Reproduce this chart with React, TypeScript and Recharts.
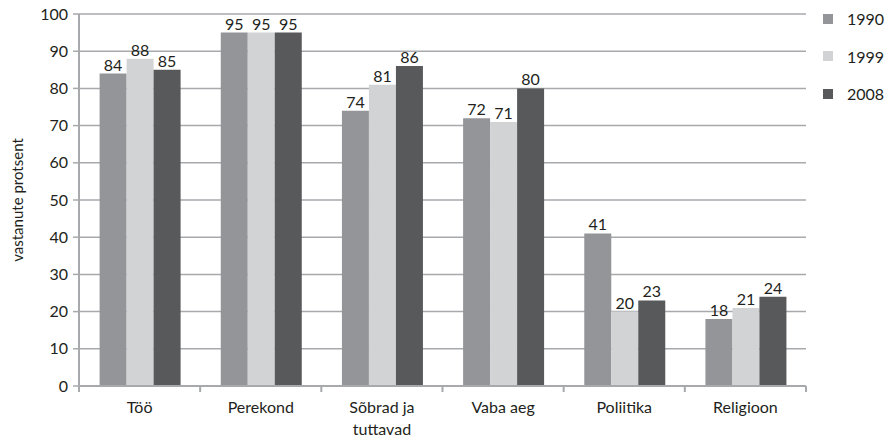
import React from "react";
import {
  BarChart,
  Bar,
  XAxis,
  YAxis,
  CartesianGrid,
  LabelList,
  Label,
  Text,
} from "recharts";

const categories = ["Töö", "Perekond", "Sõbrad ja tuttavad", "Vaba aeg", "Poliitika", "Religioon"];
const values1990 = [84, 95, 74, 72, 41, 18];
const values1999 = [88, 95, 81, 71, 20, 21];
const values2008 = [85, 95, 86, 80, 23, 24];
const yTicks = [0, 10, 20, 30, 40, 50, 60, 70, 80, 90, 100];

const series = [
  { key: "y1990", name: "1990", color: "#939598" },
  { key: "y1999", name: "1999", color: "#d1d3d4" },
  { key: "y2008", name: "2008", color: "#58595b" },
];

const data = categories.map((c, i) => ({
  name: c,
  y1990: values1990[i],
  y1999: values1999[i],
  y2008: values2008[i],
}));

const FONT = "Lato, 'Open Sans', sans-serif";
const GRID = "#a7a9ac";
const TEXT = "#231f20";

// category tick: label below, small tick marks at band edges
function CategoryTick(props: any) {
  const { x, y, payload, index } = props;
  const half = 60.6;
  return (
    <g>
      <line x1={x - half} y1={y - 8} x2={x - half} y2={y - 2} stroke={GRID} strokeWidth={2} />
      {index === categories.length - 1 && (
        <line x1={x + half} y1={y - 8} x2={x + half} y2={y - 2} stroke={GRID} strokeWidth={2} />
      )}
      <Text
        x={x}
        y={y + 8}
        width={95}
        textAnchor="middle"
        verticalAnchor="start"
        lineHeight={22}
        fontSize={16}
        fontFamily={FONT}
        fill={TEXT}
      >
        {payload.value}
      </Text>
    </g>
  );
}

function LegendBox() {
  return (
    <div
      style={{
        position: "absolute",
        left: 823,
        top: 0,
        fontFamily: FONT,
        fontSize: 16,
        color: TEXT,
      }}
    >
      {series.map((s) => (
        <div key={s.key} style={{ display: "flex", alignItems: "center", height: 37.5 }}>
          <span style={{ width: 10, height: 10, background: s.color, display: "inline-block", marginRight: 14 }} />
          <span>{s.name}</span>
        </div>
      ))}
    </div>
  );
}

export default function App() {
  return (
    <div style={{ position: "absolute", left: 0, top: 0, width: 890, height: 441, background: "#fff" }}>
      <BarChart
        width={890}
        height={441}
        data={data}
        margin={{ top: 14, right: 84, bottom: 0, left: 19 }}
        barCategoryGap="17%"
        barGap={0}
      >
        <CartesianGrid vertical={false} stroke={GRID} strokeWidth={1.5} />
        <XAxis
          dataKey="name"
          axisLine={{ stroke: GRID, strokeWidth: 2 }}
          tickLine={false}
          tick={<CategoryTick />}
          interval={0}
          height={55}
        />
        <YAxis
          domain={[0, 100]}
          ticks={yTicks}
          width={60}
          axisLine={{ stroke: GRID, strokeWidth: 2 }}
          tickLine={{ stroke: GRID, strokeWidth: 1.5 }}
          tickSize={6}
          tickMargin={5}
          tick={{ fontSize: 16, fill: TEXT, fontFamily: FONT }}
        >
          <Label
            value="vastanute protsent"
            angle={-90}
            position="insideLeft"
            offset={-1}
            style={{ fontSize: 15, fill: TEXT, fontFamily: FONT, textAnchor: "middle" }}
          />
        </YAxis>
        <YAxis
          yAxisId="right"
          orientation="right"
          domain={[0, 100]}
          width={0}
          tick={false}
          tickLine={false}
          axisLine={{ stroke: GRID, strokeWidth: 2 }}
        />
        {series.map((s) => (
          <Bar key={s.key} dataKey={s.key} name={s.name} fill={s.color} isAnimationActive={false}>
            <LabelList
              dataKey={s.key}
              position="top"
              offset={3}
              style={{ fontSize: 16, fill: TEXT, fontFamily: FONT }}
            />
          </Bar>
        ))}
      </BarChart>
      <LegendBox />
    </div>
  );
}
